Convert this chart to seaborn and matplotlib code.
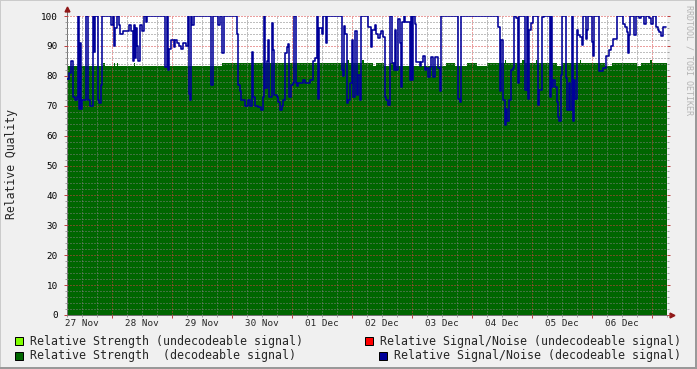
import numpy as np
import pandas as pd
import matplotlib
matplotlib.use("Agg")
import matplotlib.pyplot as plt
import seaborn as sns
from matplotlib.patches import Rectangle
from matplotlib.ticker import MultipleLocator, FixedLocator, NullFormatter

# ---------------- data (hours since 27 Nov 06:00) ----------------
snr_hours = [0.0, 0.8, 1.6, 2.4, 3.1, 3.9, 4.4, 4.7, 5.2, 5.7, 6.0, 7.6, 8.4, 9.2, 10.3, 10.8, 11.3, 12.4, 12.9, 13.5,
             14.0, 17.7, 18.3, 18.8, 19.3, 20.0, 20.7, 21.3, 22.4, 24.8, 25.4, 26.3, 26.8, 27.2, 27.6, 28.0, 28.4, 29.3,
             30.0, 30.7, 31.6, 32.0, 39.3, 39.8, 40.2, 40.7, 41.7, 42.7, 43.3, 44.1, 44.9, 45.7, 46.5, 47.6, 48.4, 48.8,
             49.1, 49.7, 50.0, 50.7, 57.7, 58.4, 60.5, 61.2, 62.1, 62.9, 68.1, 68.5, 69.2, 69.6, 71.2, 72.5, 73.2, 74.1,
             74.5, 75.2, 76.5, 77.5, 78.3, 78.9, 79.3, 79.9, 80.5, 80.9, 81.9, 82.5, 82.9, 83.9, 84.5, 85.2, 85.9, 86.5,
             87.2, 87.9, 88.5, 88.9, 89.5, 90.3, 90.9, 91.6, 92.1, 92.5, 94.5, 95.2, 97.2, 98.5, 99.2, 99.9, 100.5, 100.9,
             101.9, 102.5, 103.6, 104.1, 109.9, 110.3, 110.8, 111.2, 111.9, 112.5, 113.2, 113.9, 114.5, 115.2, 115.9,
             116.4, 117.1, 117.7, 120.4, 121.5, 122.0, 123.1, 123.7, 124.4, 125.1, 125.7, 126.4, 127.1, 127.7, 128.4,
             129.1, 130.1, 130.8, 131.3, 131.7, 132.4, 133.1, 133.5, 134.0, 134.8, 135.1, 137.1, 137.5, 138.0, 138.5,
             139.1, 139.7, 141.1, 141.7, 142.4, 143.1, 143.7, 144.4, 145.1, 145.7, 146.4, 147.1, 148.4, 149.1, 149.5,
             156.4, 157.1, 157.5, 172.4, 173.1, 173.7, 174.4, 175.1, 175.4, 175.9, 176.9, 177.6, 178.3, 178.9, 179.6,
             180.3, 180.7, 180.9, 183.3, 183.9, 184.3, 184.9, 185.6, 186.3, 188.3, 188.7, 190.0, 190.9, 193.3, 193.6,
             194.0, 194.5, 195.3, 195.9, 196.3, 196.9, 197.6, 198.0, 199.6, 200.0, 200.7, 201.3, 202.0, 202.3, 202.9,
             203.3, 203.9, 204.4, 205.2, 206.0, 206.5, 207.6, 207.9, 208.3, 210.0, 210.5, 210.9, 212.9, 214.5, 215.6,
             216.9, 217.6, 218.3, 219.9, 222.5, 223.2, 223.9, 224.3, 224.7, 225.2, 226.9, 227.6, 228.9, 229.6, 230.9,
             231.6, 232.9, 233.6, 234.3, 235.6, 236.3, 236.9, 237.6, 238.3, 239.6]
snr_values = [79, 81, 85, 73, 72, 73, 100, 69, 91, 69, 72, 100, 72, 70, 100, 88, 100, 72, 71, 77,
              100, 97, 100, 90, 96, 100, 97, 94, 95, 97, 95, 85, 97, 86, 96, 90, 85, 97,
              95, 100, 98, 100, 83, 100, 82, 89, 92, 89.5, 92, 91, 90, 89, 91, 90, 100, 74,
              72, 100, 97, 100, 77, 100, 97, 100, 87.5, 100, 94, 77, 75, 72, 70, 72, 70, 88,
              73, 70, 69.5, 68.5, 73, 100, 76, 85, 92, 73, 97.5, 88.5, 73.5, 73, 71.3, 68.4, 70, 72,
              87.5, 89.6, 90.6, 73, 77, 77.6, 100, 77.6, 76.5, 77.5, 78.5, 77.5, 78.5, 84.8, 86, 100, 72.3, 96,
              94, 100, 91, 100, 82, 80, 96.5, 94, 70.8, 72, 77.5, 92, 73, 95, 73.5,
              80.2, 72, 100, 96.4, 89.6, 95.3, 97, 94, 92.5, 94, 95, 92.9, 73, 72, 70.2,
              100, 84.2, 82, 95.3, 82, 99, 91, 76.4, 98, 100, 98, 78.6, 100, 78.6, 100,
              97.4, 84.7, 83.3, 84.7, 86.5, 82, 82.5, 79.7, 83, 86.4, 79.7, 86.4, 82.5, 75, 100,
              72.3, 71.2, 100, 96.4, 75, 92, 72, 63.5, 69, 65, 72, 82, 82.5, 100, 99.2,
              77.6, 86.5, 100, 75.3, 100, 72.3, 95.3, 97.5, 100, 70.2, 75.3, 99.7, 100, 73, 100,
              76.4, 78.6, 76.4, 71.2, 66.1, 65, 80.2, 100, 79.1, 68.4, 77.6, 68.4, 100, 65, 78.6,
              72.3, 95.3, 93.6, 93, 90.3, 100, 92.4, 95.3, 100, 91.2, 86.7, 100, 81.6, 82.5, 86.7,
              88.5, 90.1, 92.4, 100, 97.4, 96.4, 94.7, 87.5, 93.8, 100, 93.8, 100, 99.2, 100, 97.4,
              100, 99.2, 97.4, 100, 96.4, 95.3, 94.5, 93.4, 96.4, 96.4]

strength_hours = [0, 14.4, 15.2, 18.8, 19.2, 20.0, 20.4, 26.8, 27.2, 62.0, 112.0, 112.8, 118.0, 118.8, 122.4,
                  123.7, 126.8, 129.0, 131.0, 151.6, 155.0, 160.0, 164.0, 168.0, 175.0, 175.6, 182.0, 183.0,
                  187.5, 188.0, 196.0, 198.0, 205.0, 205.6, 215.0, 218.0, 228.0, 229.5, 233.0, 234.0, 240.0]
strength_values = [83.3, 84.2, 83.3, 84.2, 83.3, 84.2, 83.3, 84.2, 83.3, 84.4, 85.3, 84.4, 85.3, 84.4, 83.3,
                   84.4, 83.3, 84.4, 83.3, 84.4, 83.3, 84.4, 83.3, 84.4, 85.3, 84.4, 85.3, 84.4,
                   85.3, 84.4, 83.3, 84.4, 85.3, 84.4, 83.3, 84.4, 83.3, 84.4, 85.3, 84.4, 84.4]

day_label_hours = [6, 30, 54, 78, 102, 126, 150, 174, 198, 222]
day_labels = ["27 Nov", "28 Nov", "29 Nov", "30 Nov", "01 Dec", "02 Dec", "03 Dec", "04 Dec", "05 Dec", "06 Dec"]
midnight_hours = [18, 42, 66, 90, 114, 138, 162, 186, 210, 234]

legend_labels = ["Relative Strength (undecodeable signal)", "Relative Signal/Noise (undecodeable signal)",
                 "Relative Strength  (decodeable signal)", "Relative Signal/Noise (decodeable signal)"]
legend_colors = ["#80FF00", "#FF0000", "#006600", "#000099"]

# ---------------- style ----------------
sns.set_style("white")
MONO = ["DejaVu Sans Mono"]
plt.rcParams["font.family"] = MONO
plt.rcParams["axes.unicode_minus"] = False

W, H = 697, 369
fig = plt.figure(figsize=(W / 100, H / 100), dpi=100, facecolor="#F0F0F0")
L, R, T, B = 67, 667, 16, 315
ax = fig.add_axes([L / W, 1 - B / H, (R - L) / W, (B - T) / H])
ax.set_facecolor("white")

# green area
ax.fill_between(strength_hours, strength_values, step="post", color="#006600", linewidth=0, zorder=1)

# blue line
df_snr = pd.DataFrame({"hours": snr_hours, "value": snr_values})
sns.lineplot(data=df_snr, x="hours", y="value", ax=ax, color="#000099", linewidth=1.15,
             drawstyle="steps-post", estimator=None, sort=False, zorder=3)

ax.set_xlim(0, 240)
ax.set_ylim(0, 100)
ax.set_xlabel("")
ax.set_ylabel("")

ax.yaxis.set_major_locator(MultipleLocator(10))
ax.yaxis.set_minor_locator(MultipleLocator(2))
ax.xaxis.set_major_locator(FixedLocator(midnight_hours))
ax.xaxis.set_minor_locator(MultipleLocator(6))
ax.xaxis.set_major_formatter(NullFormatter())

ax.set_axisbelow(False)
dots = (0, (1, 2))
ax.grid(which="major", color=(0.85, 0.25, 0.25, 0.3), linestyle=dots, linewidth=0.72)
ax.grid(which="minor", color=(0.5, 0.5, 0.5, 0.3), linestyle=dots, linewidth=0.72)

ax.tick_params(axis="y", which="major", left=True, right=True, direction="out", length=2.2, width=0.72,
               color="#C04040", labelsize=6.7, pad=4.5, labelcolor="black")
ax.tick_params(axis="y", which="minor", left=True, right=True, direction="out", length=1.5, width=0.72,
               color="#A0A0A0")
ax.tick_params(axis="x", which="major", bottom=True, direction="out", length=2.2, width=0.72, color="#C04040")
ax.tick_params(axis="x", which="minor", bottom=True, direction="out", length=1.5, width=0.72, color="#A0A0A0")

for s in ["top", "right"]:
    ax.spines[s].set_visible(False)
for s in ["left", "bottom"]:
    ax.spines[s].set_color("#707070")
    ax.spines[s].set_linewidth(0.72)

# axis extensions and arrows
ax.plot([0, 0], [1.0, 1.02], transform=ax.transAxes, color="#707070", lw=0.72, clip_on=False)
ax.plot([1.0, 1.006], [0, 0], transform=ax.transAxes, color="#707070", lw=0.72, clip_on=False)
ax.plot([0], [1.025], transform=ax.transAxes, marker="^", markersize=3.5, color="#901818", clip_on=False)
ax.plot([1.008], [0], transform=ax.transAxes, marker=">", markersize=3.5, color="#901818", clip_on=False)

# day labels
sec = ax.secondary_xaxis("bottom")
sec.set_xticks(day_label_hours)
sec.set_xticklabels(day_labels)
sec.tick_params(length=0, labelsize=6.7, pad=3)
sec.spines["bottom"].set_visible(False)

# y label
fig.text(12 / W, 1 - 164 / H, "Relative Quality", rotation=90, ha="center", va="center", fontsize=8.3)

# watermark
fig.text(688.5 / W, 1 - 60 / H, "RRDTOOL / TOBI OETIKER", rotation=270, ha="center", va="center",
         fontsize=6, color="#B4B4B4")

# legend
legend_pos = [(15, 341, 30), (365, 341, 380.5), (15, 355.5, 30), (379, 355.5, 394.5)]
for (bx, cy, tx), lab, col in zip(legend_pos, legend_labels, legend_colors):
    fig.patches.append(Rectangle((bx / W, 1 - (cy + 4) / H), 8 / W, 8 / H, transform=fig.transFigure,
                                 facecolor=col, edgecolor="black", linewidth=0.72))
    fig.text(tx / W, 1 - cy / H, lab, ha="left", va="center", fontsize=8.35)

# frame
fig.patches.append(Rectangle((0, 1 - 1 / H), 1, 1 / H, transform=fig.transFigure, facecolor="#CBCBCB", lw=0))
fig.patches.append(Rectangle((0, 0), 1 / W, 1, transform=fig.transFigure, facecolor="#CBCBCB", lw=0))
fig.patches.append(Rectangle((0, 0), 1, 2 / H, transform=fig.transFigure, facecolor="#999999", lw=0))
fig.patches.append(Rectangle((1 - 2 / W, 0), 2 / W, 1, transform=fig.transFigure, facecolor="#999999", lw=0))

fig.savefig("out.png", dpi=100, facecolor=fig.get_facecolor())
